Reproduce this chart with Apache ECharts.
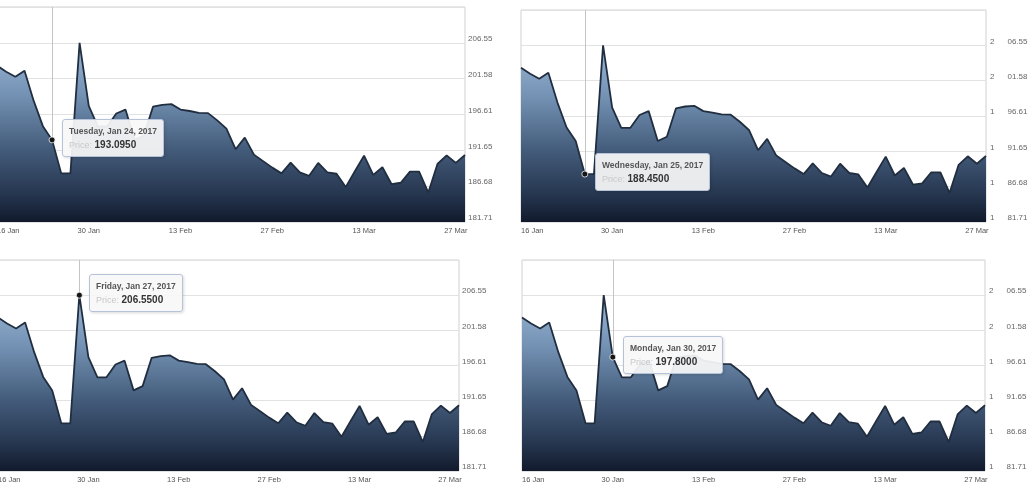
<!DOCTYPE html>
<html lang="en">
<head>
<meta charset="UTF-8">
<title>Price</title>
<script src="https://cdn.jsdelivr.net/npm/echarts@6/dist/echarts.min.js"></script>
<style>
    html, body { margin: 0; padding: 0; background: #fff; overflow: hidden; width: 1034px; height: 491px; }
    .panel { position: absolute; }
</style>
</head>
<body>
<div id="p1" class="panel" style="left:-3px;top:0;width:520px;height:245px"></div>
<div id="p2" class="panel" style="left:514px;top:0;width:520px;height:245px"></div>
<div id="p3" class="panel" style="left:-2px;top:245px;width:520px;height:246px"></div>
<div id="p4" class="panel" style="left:514px;top:245px;width:520px;height:246px"></div>
<script type="text/javascript">
// trading days shown on the x axis
var dates = [
    '2017-01-16', '2017-01-17', '2017-01-18', '2017-01-19', '2017-01-20',
    '2017-01-23', '2017-01-24', '2017-01-25', '2017-01-26', '2017-01-27',
    '2017-01-30', '2017-01-31', '2017-02-01', '2017-02-02', '2017-02-03',
    '2017-02-06', '2017-02-07', '2017-02-08', '2017-02-09', '2017-02-10',
    '2017-02-13', '2017-02-14', '2017-02-15', '2017-02-16', '2017-02-17',
    '2017-02-20', '2017-02-21', '2017-02-22', '2017-02-23', '2017-02-24',
    '2017-02-27', '2017-02-28', '2017-03-01', '2017-03-02', '2017-03-03',
    '2017-03-06', '2017-03-07', '2017-03-08', '2017-03-09', '2017-03-10',
    '2017-03-13', '2017-03-14', '2017-03-15', '2017-03-16', '2017-03-17',
    '2017-03-20', '2017-03-21', '2017-03-22', '2017-03-23', '2017-03-24',
    '2017-03-27', '2017-03-28'
];
// price
var prices = [
    203.40, 202.55, 201.85, 202.68, 198.50,
    195.00, 193.095, 188.45, 188.45, 206.55,
    197.80, 194.95, 194.95, 196.75, 197.30,
    193.10, 193.70, 197.70, 197.95, 198.05,
    197.30, 197.10, 196.85, 196.80, 195.80,
    194.65, 191.80, 193.40, 191.05, 190.15,
    189.25, 188.45, 189.95, 188.60, 188.10,
    189.90, 188.60, 188.40, 186.55, 188.75,
    190.90, 188.25, 189.30, 186.95, 187.15,
    188.70, 188.70, 185.80, 189.75, 190.95,
    189.90, 191.00
];
var tickDates = ['2017-01-16', '2017-01-30', '2017-02-13', '2017-02-27', '2017-03-13', '2017-03-27'];
var yTicks = [181.71, 186.68, 191.65, 196.61, 201.58, 206.55];
// hovered point of each panel
var hoverDates = ['2017-01-24', '2017-01-25', '2017-01-27', '2017-01-30'];

var dayNames = ['Sunday', 'Monday', 'Tuesday', 'Wednesday', 'Thursday', 'Friday', 'Saturday'];
var monNames = ['Jan', 'Feb', 'Mar', 'Apr', 'May', 'Jun', 'Jul', 'Aug', 'Sep', 'Oct', 'Nov', 'Dec'];

function toDate(s) { return new Date(s + 'T00:00:00Z'); }
function longDate(s) {
    var d = toDate(s);
    return dayNames[d.getUTCDay()] + ', ' + monNames[d.getUTCMonth()] + ' ' + d.getUTCDate() + ', ' + d.getUTCFullYear();
}
function shortDate(s) {
    var d = toDate(s);
    return d.getUTCDate() + ' ' + monNames[d.getUTCMonth()];
}

var yStep = (yTicks[yTicks.length - 1] - yTicks[0]) / (yTicks.length - 1);
var yMin = yTicks[0];
var yMax = yMin + yStep * yTicks.length;

function makePanel(id, grid, hoverDate, splitLabel) {
    var chart = echarts.init(document.getElementById(id));
    var hoverIndex = dates.indexOf(hoverDate);

    var yLabel = {
        fontFamily: 'Liberation Sans',
        fontSize: 8,
        color: '#666',
        margin: splitLabel ? 4 : 3,
        verticalAlign: 'bottom',
        showMaxLabel: false,
        formatter: function (v) {
            if (v > yTicks[yTicks.length - 1] + 0.01) return '';
            var s = v.toFixed(2);
            return splitLabel ? '{a|' + s.charAt(0) + '}{b|' + s.slice(1) + '}' : s;
        }
    };
    if (splitLabel) {
        yLabel.rich = {
            a: { fontFamily: 'Liberation Sans', fontSize: 8, color: '#666' },
            b: { fontFamily: 'Liberation Sans', fontSize: 8, color: '#666', padding: [0, 0, 0, 13] }
        };
    }

    chart.setOption({
        animation: false,
        backgroundColor: '#fff',
        grid: Object.assign({
            show: true,
            borderColor: '#d0d0d0',
            borderWidth: 1,
            outerBoundsMode: 'none'
        }, grid),
        tooltip: {
            trigger: 'axis',
            triggerOn: 'none',
            alwaysShowContent: true,
            transitionDuration: 0,
            backgroundColor: 'rgba(247,247,247,0.93)',
            borderColor: '#b6c2d8',
            borderWidth: 1,
            borderRadius: 3,
            padding: [5, 6, 5, 6],
            shadowBlur: 3,
            shadowOffsetX: 1,
            shadowOffsetY: 1,
            shadowColor: 'rgba(0,0,0,0.15)',
            axisPointer: {
                type: 'line',
                z: 1,
                lineStyle: { color: '#c4c4c4', width: 1, type: 'solid' }
            },
            position: function (pt, params) {
                var p = params[0];
                var xy = chart.convertToPixel({ seriesIndex: 0 }, [p.dataIndex, p.value]);
                return [xy[0] + 10, xy[1] - 21];
            },
            formatter: function (params) {
                var p = params[0];
                return '<div style="font-family:Liberation Sans;font-size:8.5px;font-weight:bold;color:#555;line-height:12px">' +
                    longDate(p.name) + '</div>' +
                    '<div style="font-family:Liberation Sans;line-height:12px">' +
                    '<span style="font-size:9px;color:#c9c9c9">Price: </span>' +
                    '<span style="font-size:10px;font-weight:bold;color:#333">' + p.value.toFixed(4) + '</span></div>';
            }
        },
        xAxis: {
            type: 'category',
            data: dates,
            boundaryGap: false,
            axisLine: { show: false },
            axisTick: { show: false },
            splitLine: { show: false },
            axisLabel: {
                fontFamily: 'Liberation Sans',
                fontSize: 7.5,
                color: '#555',
                margin: 5,
                alignMinLabel: 'left',
                interval: function (index, value) {
                    return tickDates.indexOf(value) >= 0;
                },
                formatter: function (v) { return shortDate(v); }
            }
        },
        yAxis: {
            type: 'value',
            position: 'right',
            min: yMin,
            max: yMax,
            interval: yStep,
            axisLine: { show: false },
            axisTick: { show: false },
            splitLine: { lineStyle: { color: '#e2e2e2', width: 1 } },
            axisLabel: yLabel
        },
        series: [{
            type: 'line',
            data: prices,
            showSymbol: false,
            symbol: 'circle',
            symbolSize: 6,
            lineStyle: { color: '#1e2a3b', width: 1.8 },
            itemStyle: { color: '#151515', borderColor: 'rgba(255,255,255,0.75)', borderWidth: 1 },
            areaStyle: {
                opacity: 1,
                color: new echarts.graphic.LinearGradient(0, 0, 0, 1, [
                    { offset: 0, color: '#8ea8c4' },
                    { offset: 0.3, color: '#6883a2' },
                    { offset: 0.6, color: '#3d536f' },
                    { offset: 0.85, color: '#223147' },
                    { offset: 1, color: '#101828' }
                ])
            },
            emphasis: { scale: false, lineStyle: { width: 1.8 } },
            z: 2
        }]
    });

    chart.dispatchAction({ type: 'showTip', seriesIndex: 0, dataIndex: hoverIndex });
    return chart;
}

makePanel('p1', { left: 0, right: 52, top: 7, height: 215 }, hoverDates[0], false);
makePanel('p2', { left: 7, right: 48, top: 10, height: 212 }, hoverDates[1], true);
makePanel('p3', { left: 0, right: 59, top: 15, height: 211 }, hoverDates[2], false);
makePanel('p4', { left: 8, right: 49, top: 15, height: 211 }, hoverDates[3], true);
</script>
</body>
</html>
